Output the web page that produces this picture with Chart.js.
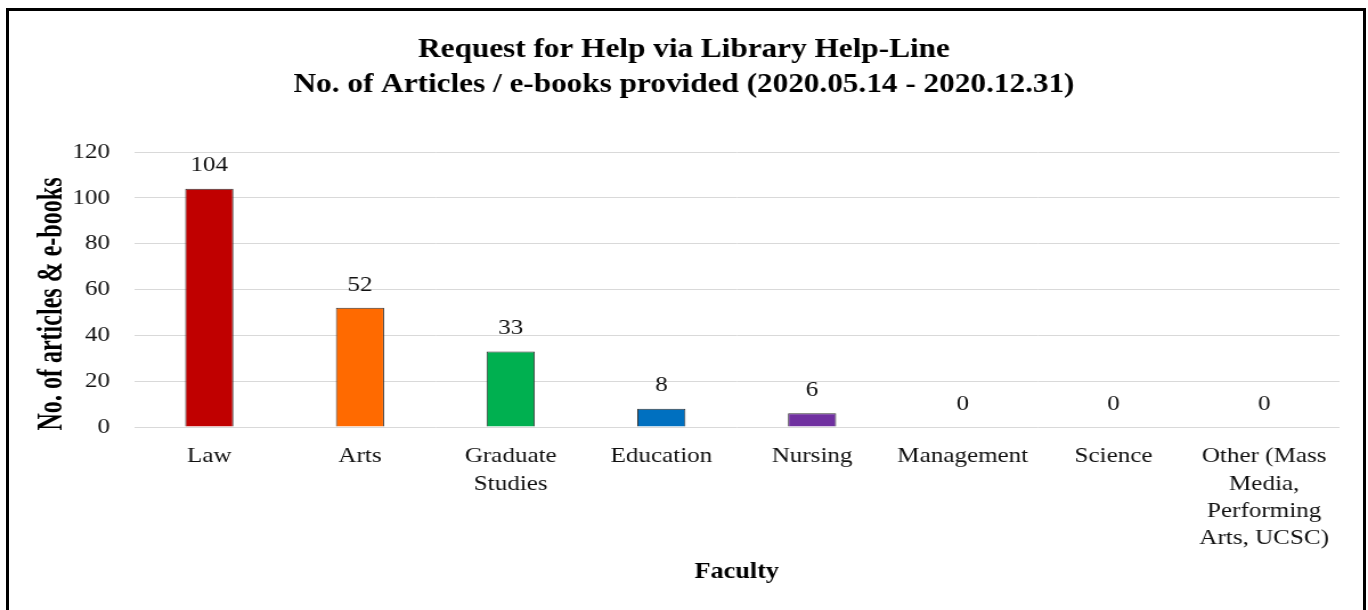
<!DOCTYPE html>
<html>
<head>
<meta charset="utf-8">
<script src="https://cdn.jsdelivr.net/npm/chart.js@4/dist/chart.umd.min.js"></script>
<style>
  html, body { margin: 0; padding: 0; background: #fff; width: 1368px; height: 610px; overflow: hidden; }
  #frame { position: absolute; left: 6px; top: 8px; width: 1354px; height: 640px; border: 3px solid #000; }
  #wrap { position: absolute; left: 0; top: 0; width: 1200px; height: 610px; transform: scaleX(1.14); transform-origin: 0 0; }
</style>
</head>
<body>
<div id="frame"></div>
<div id="wrap"><canvas id="c" width="1200" height="610"></canvas></div>
<script>
const categories = [
  'Law', 'Arts', ['Graduate', 'Studies'], 'Education', 'Nursing', 'Management', 'Science',
  ['Other (Mass', 'Media,', 'Performing', 'Arts, UCSC)']
];
const values = [104, 52, 33, 8, 6, 0, 0, 0];
const barColors = ['#C00000', '#FF6A00', '#00B050', '#0070C0', '#7030A0', '#A5A5A5', '#A5A5A5', '#A5A5A5'];
const yTicks = [0, 20, 40, 60, 80, 100, 120];
const titleLines = ['Request for Help via Library Help-Line', 'No. of Articles / e-books provided (2020.05.14 - 2020.12.31)'];
const yAxisTitle = 'No. of articles & e-books';
const xAxisTitle = 'Faculty';

const FONT = "'Liberation Serif', 'Times New Roman', serif";

const valueLabels = {
  id: 'valueLabels',
  afterDatasetsDraw(chart) {
    const ctx = chart.ctx;
    const meta = chart.getDatasetMeta(0);
    ctx.save();
    ctx.font = '22px ' + FONT;
    ctx.fillStyle = '#111';
    ctx.textAlign = 'center';
    ctx.textBaseline = 'middle';
    meta.data.forEach((bar, i) => {
      ctx.fillText(String(values[i]), bar.x, bar.y - 23);
    });
    ctx.restore();
  }
};

const yTitlePlugin = {
  id: 'yTitlePlugin',
  afterDraw(chart) {
    const ctx = chart.ctx;
    ctx.save();
    ctx.font = 'bold 31px ' + FONT;
    ctx.fillStyle = '#000';
    ctx.textAlign = 'center';
    ctx.textBaseline = 'alphabetic';
    const w = ctx.measureText(yAxisTitle).width;
    const target = 253;
    ctx.translate(54, 304);
    ctx.rotate(-Math.PI / 2);
    ctx.scale(target / w, 1);
    ctx.fillText(yAxisTitle, 0, 0);
    ctx.restore();
  }
};

new Chart(document.getElementById('c'), {
  type: 'bar',
  data: {
    labels: categories,
    datasets: [{
      data: values,
      backgroundColor: barColors,
      borderColor: '#333',
      borderWidth: 1,
      barPercentage: 0.32,
      categoryPercentage: 1.0
    }]
  },
  options: {
    responsive: false,
    animation: false,
    devicePixelRatio: 1,
    layout: { padding: { left: 25, right: 25, top: 0, bottom: 0 } },
    plugins: {
      legend: { display: false },
      tooltip: { enabled: false },
      title: {
        display: true,
        text: titleLines,
        color: '#000',
        font: { family: FONT, size: 27.4, weight: 'bold', lineHeight: 1.28 },
        padding: { top: 32.5, bottom: 49.4 }
      }
    },
    scales: {
      x: {
        grid: { display: false, drawTicks: false },
        border: { display: false },
        ticks: {
          color: '#111',
          font: { family: FONT, size: 22, lineHeight: 1.24 },
          padding: 16,
          maxRotation: 0,
          autoSkip: false
        },
        title: {
          display: true,
          text: xAxisTitle,
          color: '#000',
          font: { family: FONT, size: 23, weight: 'bold' },
          padding: { top: 0, bottom: 24 }
        },
        afterFit(scale) { scale.height = 183; }
      },
      y: {
        min: 0,
        max: 120,
        afterBuildTicks(scale) { scale.ticks = yTicks.map(v => ({ value: v })); },
        grid: { color: '#D9D9D9', lineWidth: 1, drawTicks: false },
        border: { display: false },
        ticks: {
          color: '#111',
          font: { family: FONT, size: 22 },
          padding: 21
        },
        title: { display: false },
        afterFit(scale) { scale.width = 92.5; }
      }
    }
  },
  plugins: [valueLabels, yTitlePlugin]
});
</script>
</body>
</html>
